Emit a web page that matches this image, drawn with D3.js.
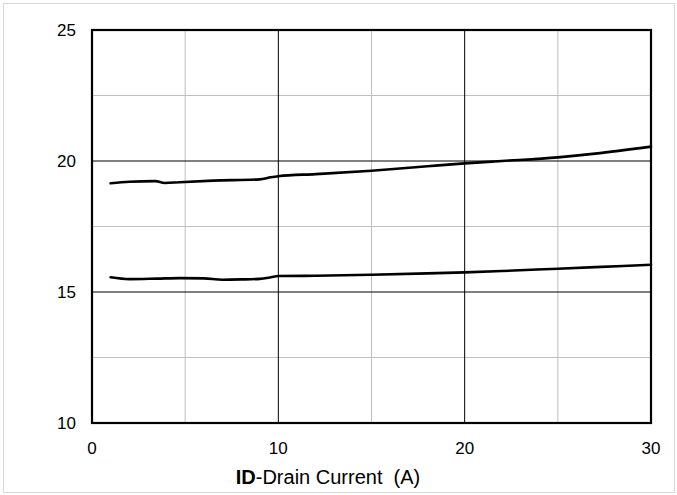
<!DOCTYPE html>
<html><head><meta charset="utf-8">
<script src="https://cdn.jsdelivr.net/npm/d3@7"></script>
<style>body{margin:0;background:#fff}svg{display:block}text{font-family:"Liberation Sans",Arial,sans-serif;fill:#000}</style>
</head><body>
<svg id="c" width="677" height="495"></svg>
<script>
const xTicks = [0, 10, 20, 30];
const yTicks = [10, 15, 20, 25];
const xMinor = [5, 15, 25];
const yMinor = [12.5, 17.5, 22.5];
const upperX = [1, 2, 3.4, 3.9, 4.7, 6.5, 9, 9.6, 10, 12, 15, 18, 20, 22, 25, 27, 30];
const upperY = [19.15, 19.21, 19.23, 19.16, 19.19, 19.25, 19.30, 19.38, 19.42, 19.50, 19.63, 19.80, 19.91, 20.00, 20.14, 20.28, 20.55];
const lowerX = [1, 2, 3.5, 4.7, 6, 7, 8, 9, 9.6, 10, 12, 15, 18, 20, 22, 25, 27, 30];
const lowerY = [15.56, 15.49, 15.51, 15.53, 15.52, 15.47, 15.48, 15.50, 15.56, 15.61, 15.62, 15.66, 15.71, 15.75, 15.80, 15.89, 15.95, 16.04];

const svg = d3.select("#c");
svg.append("rect").attr("x",3.5).attr("y",3.5).attr("width",671).attr("height",489)
  .attr("fill","none").attr("stroke","#d9d9d9").attr("stroke-width",1);

const x = d3.scaleLinear().domain([0,30]).range([92,651]);
const y = d3.scaleLinear().domain([10,25]).range([423,30]);

const g = svg.append("g");
// minor grid
g.selectAll(".mx").data(xMinor).join("line").attr("x1",d=>x(d)).attr("x2",d=>x(d))
  .attr("y1",y(25)).attr("y2",y(10)).attr("stroke","#bfbfbf").attr("stroke-width",1);
g.selectAll(".my").data(yMinor).join("line").attr("y1",d=>y(d)).attr("y2",d=>y(d))
  .attr("x1",x(0)).attr("x2",x(30)).attr("stroke","#bfbfbf").attr("stroke-width",1);
// major grid
g.selectAll(".gx").data(xTicks.slice(1,-1)).join("line").attr("x1",d=>x(d)).attr("x2",d=>x(d))
  .attr("y1",y(25)).attr("y2",y(10)).attr("stroke","#000").attr("stroke-width",1);
g.selectAll(".gy").data(yTicks.slice(1,-1)).join("line").attr("y1",d=>y(d)).attr("y2",d=>y(d))
  .attr("x1",x(0)).attr("x2",x(30)).attr("stroke","#000").attr("stroke-width",1);
// frame
g.append("rect").attr("x",x(0)).attr("y",y(25)).attr("width",x(30)-x(0)).attr("height",y(10)-y(25))
  .attr("fill","none").attr("stroke","#000").attr("stroke-width",2.2);

// curves
const line = d3.line().x(d=>x(d[0])).y(d=>y(d[1])).curve(d3.curveMonotoneX);
[[upperX,upperY],[lowerX,lowerY]].forEach(([xs,ys])=>{
  g.append("path").datum(xs.map((v,i)=>[v,ys[i]])).attr("d",line)
    .attr("fill","none").attr("stroke","#000").attr("stroke-width",2.6).attr("stroke-linecap","round");
});

// tick labels
svg.selectAll(".yl").data(yTicks).join("text").attr("x",76).attr("y",d=>y(d)).attr("dy","0.36em")
  .attr("text-anchor","end").attr("font-size",17).text(d=>d);
svg.selectAll(".xl").data(xTicks).join("text").attr("x",d=>x(d)).attr("y",454)
  .attr("text-anchor","middle").attr("font-size",17).text(d=>d);

// axis label
const t = svg.append("text").attr("x",328).attr("y",484).attr("text-anchor","middle")
  .attr("font-size",20).style("white-space","pre");
t.append("tspan").attr("font-weight","bold").text("ID");
t.append("tspan").text("-Drain Current  (A)");
</script>
</body></html>
